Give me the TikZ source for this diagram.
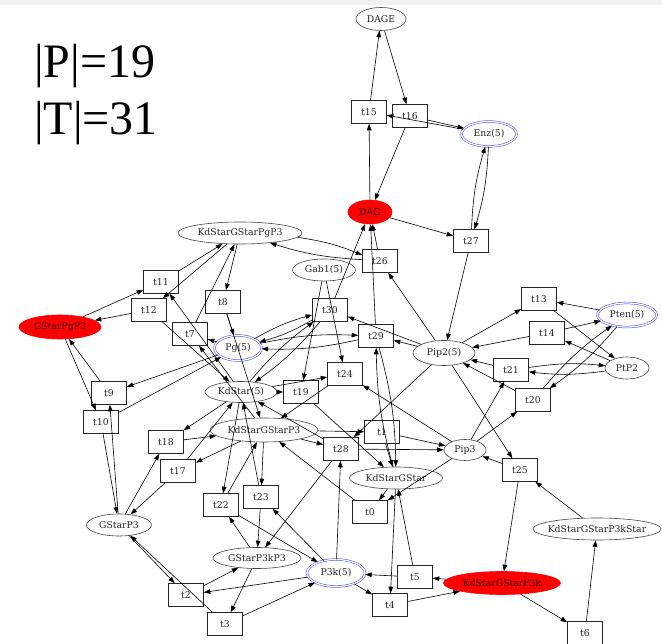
\documentclass[tikz,border=0pt]{standalone}
\usepackage{fontspec}
\newfontfamily\lblfont{DejaVu Serif}
\newfontfamily\countfont{Liberation Serif}
\usetikzlibrary{shapes.geometric,arrows.meta}
\definecolor{placeline}{RGB}{70,70,70}
\definecolor{tokenblue}{RGB}{70,70,255}
\definecolor{topband}{RGB}{241,241,241}
\definecolor{hotred}{RGB}{255,0,0}

\begin{document}
\begin{tikzpicture}[x=1pt,y=-1pt,
  lbl/.style={font=\lblfont\fontsize{9.3}{11}\selectfont, text=black!85},
  place/.style={lbl, ellipse, draw=placeline, line width=0.6pt, inner xsep=-8pt, inner ysep=0pt},
  marked/.style={place, draw=tokenblue, double=white, double distance=1.3pt, line width=0.5pt},
  hot/.style={place, draw=hotred, fill=hotred, text=black!80!red},
  trans/.style={lbl, rectangle, draw=black!85, line width=0.6pt, minimum width=35pt, minimum height=23pt, inner sep=0pt},
  arc/.style={-{Triangle[length=6.5pt,width=4.6pt]}, line width=0.6pt, black},
  twin/.style={arc, bend left=7},
]
\useasboundingbox (0,0) rectangle (662,644);
\fill[white] (0,0) rectangle (662,644);
\fill[topband] (0,0) rectangle (662,5);

% net size
\node[anchor=base west, inner sep=0pt, font=\countfont\fontsize{48}{52}\selectfont] (np) at (34,78) {|P|=19};
\node[anchor=base west, inner sep=0pt, font=\countfont\fontsize{48}{52}\selectfont] (nt) at (34,135) {|T|=31};

% places
\node[place, minimum width=50pt, minimum height=23pt] (DAGE) at (381,19) {DAGE};
\node[marked, minimum width=55pt, minimum height=25pt] (Enz) at (489,134) {Enz(5)};
\node[hot, minimum width=44pt, minimum height=24pt] (DAG) at (370,212) {DAG};
\node[place, minimum width=124pt, minimum height=22pt] (KGPgP3) at (240,233) {KdStarGStarPgP3};
\node[place, minimum width=63pt, minimum height=22pt] (Gab1) at (324,270) {Gab1(5)};
\node[hot, minimum width=82pt, minimum height=24pt] (GPgP3) at (60,327) {GStarPgP3};
\node[marked, minimum width=59pt, minimum height=24pt] (Pten) at (627,315) {Pten(5)};
\node[marked, minimum width=47pt, minimum height=25pt] (Pg) at (238,348) {Pg(5)};
\node[place, minimum width=62pt, minimum height=25pt] (Pip2) at (444,353) {Pip2(5)};
\node[place, minimum width=44pt, minimum height=22pt] (PtP2) at (627,368) {PtP2};
\node[place, minimum width=72pt, minimum height=21pt] (KdStar) at (241,392) {KdStar(5)};
\node[place, minimum width=108pt, minimum height=24pt] (KGP3) at (264,430) {KdStarGStarP3};
\node[place, minimum width=42pt, minimum height=21pt] (Pip3) at (465,450) {Pip3};
\node[place, minimum width=93pt, minimum height=22pt] (KG) at (396,478) {KdStarGStar};
\node[place, minimum width=65pt, minimum height=22pt] (GP3) at (119,525) {GStarP3};
\node[place, minimum width=128pt, minimum height=22pt] (KGP3kS) at (597,529) {KdStarGStarP3kStar};
\node[place, minimum width=88pt, minimum height=21pt] (GP3kP3) at (257,558) {GStarP3kP3};
\node[marked, minimum width=58pt, minimum height=27pt] (P3k) at (336,573) {P3k(5)};
\node[hot, minimum width=117pt, minimum height=23pt] (KGP3k) at (502,583) {KdStarGStarP3k};

% transitions
\node[trans] (t0) at (370,512) {t0};
\node[trans] (t1) at (382,432) {t1};
\node[trans] (t2) at (186,595) {t2};
\node[trans] (t3) at (225,624) {t3};
\node[trans] (t4) at (390,605) {t4};
\node[trans] (t5) at (415,577) {t5};
\node[trans] (t6) at (585,633) {t6};
\node[trans] (t7) at (190,334) {t7};
\node[trans] (t8) at (223,302) {t8};
\node[trans] (t9) at (109,393) {t9};
\node[trans] (t10) at (101,422) {t10};
\node[trans] (t11) at (161,282) {t11};
\node[trans] (t12) at (149,310) {t12};
\node[trans] (t13) at (539,299) {t13};
\node[trans] (t14) at (547,333) {t14};
\node[trans] (t15) at (369,112) {t15};
\node[trans] (t16) at (410,116) {t16};
\node[trans] (t17) at (178,471) {t17};
\node[trans] (t18) at (166,442) {t18};
\node[trans] (t19) at (301,392) {t19};
\node[trans] (t20) at (533,400) {t20};
\node[trans] (t21) at (511,370) {t21};
\node[trans] (t22) at (221,505) {t22};
\node[trans] (t23) at (261,497) {t23};
\node[trans] (t24) at (345,374) {t24};
\node[trans] (t25) at (520,470) {t25};
\node[trans] (t26) at (380,261) {t26};
\node[trans] (t27) at (471,241) {t27};
\node[trans] (t28) at (341,449) {t28};
\node[trans] (t29) at (376,336) {t29};
\node[trans] (t30) at (330,310) {t30};

% arcs
\foreach \a/\b in {t15/DAGE,DAGE/t16,DAG/t15,t16/DAG,Enz/t15,t16/Enz,DAG/t27,t27/Pip2,t26/DAG,t29/DAG,t30/DAG,
  Pip2/t26,KGPgP3/t8,t8/Pg,t8/KGP3,t7/KGPgP3,Pg/t7,KGP3/t7,t11/KGPgP3,GPgP3/t11,KdStar/t11,KGPgP3/t12,t12/GPgP3,t12/KdStar,
  Pg/t9,GP3/t9,t9/GPgP3,GPgP3/t10,t10/GP3,t10/Pg,
  Pip2/t13,Pten/t13,t13/PtP2,PtP2/t14,t14/Pten,t14/Pip2,Pip3/t21,t21/Pip2,Pip3/t20,t20/Pip2,
  Pip2/t29,Pip2/t30,
  Gab1/t19,Gab1/t24,KdStar/t19,t19/KG,KdStar/t24,Pip3/t24,t24/KGP3,
  KG/t0,Pip3/t0,t0/KGP3,KGP3/t1,t1/KG,t1/Pip3,KG/t4,P3k/t4,t4/KGP3k,KGP3k/t5,t5/P3k,t5/KG,
  KGP3k/t6,t6/KGP3kS,KGP3kS/t25,t25/KGP3k,Pip2/t25,t25/Pip3,
  KGP3/t28,Pip2/t28,P3k/t28,t28/Pip3,t28/GP3kP3,t28/KdStar,
  GP3/t18,KdStar/t18,t18/KGP3,KGP3/t17,t17/GP3,t17/KdStar,
  KdStar/t22,GP3kP3/t22,t22/KGP3,t22/P3k,KGP3/t23,P3k/t23,t23/GP3kP3,t23/KdStar,
  GP3/t2,P3k/t2,t2/GP3kP3,GP3kP3/t3,t3/GP3,t3/P3k}
  \draw[arc] (\a) to (\b);

% arcs running both ways between the same pair
\foreach \a/\b in {Enz/t27,t27/Enz,KGPgP3/t26,t26/KGPgP3,PtP2/t21,t21/PtP2,Pten/t20,t20/Pten,
  Pg/t29,t29/Pg,KG/t29,t29/KG,Pg/t30,t30/Pg,KdStar/t30,t30/KdStar}
  \draw[twin] (\a) to (\b);
\end{tikzpicture}
\end{document}
